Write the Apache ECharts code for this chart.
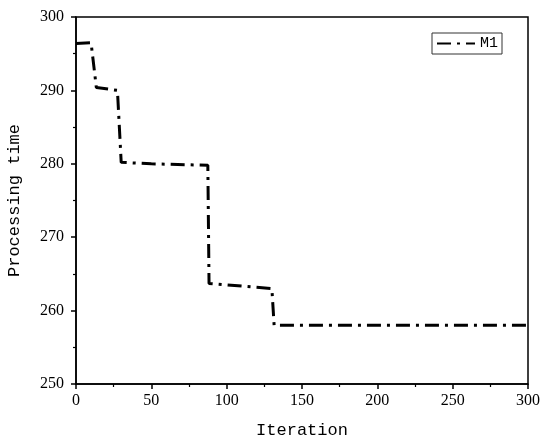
<!DOCTYPE html>
<html><head><meta charset="utf-8">
<script src="https://cdn.jsdelivr.net/npm/echarts@6/dist/echarts.min.js"></script>
<style>html,body{margin:0;padding:0;background:#fff}#c{width:550px;height:447px}</style>
</head><body><div id="c"></div>
<script>
const seriesName = 'M1';
const iterations = [0, 10, 13.5, 27.5, 30, 50, 87.5, 88.3, 130, 131.5, 300];
const times = [296.4, 296.5, 290.4, 290.0, 280.2, 280.0, 279.8, 263.7, 263.0, 258.0, 258.0];
const xTicks = [0, 300, 50];
const yTicks = [250, 300, 10];

const chart = echarts.init(document.getElementById('c'));
const serif = 'Liberation Serif';
const mono = 'Liberation Mono';
chart.setOption({
  animation: false,
  backgroundColor: '#fff',
  grid: {left: 76, right: 22, top: 17, bottom: 63, outerBoundsMode: 'none', containLabel: false,
         show: true, borderColor: '#000', borderWidth: 1.5},
  legend: {
    data: [seriesName], left: 432, top: 33, orient: 'vertical',
    borderColor: '#333', borderWidth: 1, padding: [3, 4, 3, 4],
    itemWidth: 38, itemHeight: 14, itemGap: 4,
    itemStyle: {opacity: 0},
    textStyle: {fontFamily: mono, fontSize: 15, color: '#000'}
  },
  xAxis: {
    type: 'value', min: xTicks[0], max: xTicks[1], interval: xTicks[2],
    name: 'Iteration', nameLocation: 'middle', nameGap: 38,
    nameTextStyle: {fontFamily: mono, fontSize: 17, color: '#000'},
    axisLine: {lineStyle: {color: '#000', width: 1.5}},
    axisTick: {inside: false, length: 5, lineStyle: {color: '#000', width: 1.5}},
    minorTick: {show: true, splitNumber: 2, length: 3, lineStyle: {color: '#000', width: 1.2}},
    axisLabel: {fontFamily: serif, fontSize: 16, color: '#000', margin: 9},
    splitLine: {show: false}
  },
  yAxis: {
    type: 'value', min: yTicks[0], max: yTicks[1], interval: yTicks[2],
    name: 'Processing time', nameLocation: 'middle', nameGap: 53,
    nameTextStyle: {fontFamily: mono, fontSize: 17, color: '#000'},
    axisLine: {lineStyle: {color: '#000', width: 1.5}},
    axisTick: {inside: false, length: 5, lineStyle: {color: '#000', width: 1.5}},
    minorTick: {show: true, splitNumber: 2, length: 3, lineStyle: {color: '#000', width: 1.2}},
    axisLabel: {fontFamily: serif, fontSize: 16, color: '#000', margin: 12},
    splitLine: {show: false}
  },
  series: [{
    name: seriesName, type: 'line', showSymbol: false, symbol: 'none',
    data: iterations.map((x, i) => [x, times[i]]),
    lineStyle: {color: '#000', width: 3, type: [14, 6, 3, 6], cap: 'butt'},
    itemStyle: {color: '#000'}
  }]
});
</script></body></html>
